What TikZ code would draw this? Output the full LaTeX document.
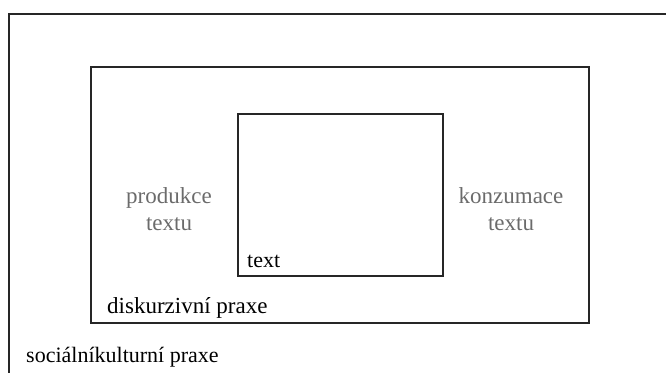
\documentclass[tikz,border=0pt]{standalone}
\usepackage{fontspec}
\setmainfont{Liberation Serif}
\definecolor{labelgray}{gray}{0.42}
\tikzset{
  frame/.style={draw=black!85, line width=1.3pt},
  lbl/.style={inner sep=0pt, font=\fontsize{23}{27}\selectfont},
  sidelbl/.style={lbl, text=labelgray, align=center},
}
\begin{document}
\begin{tikzpicture}[x=1pt,y=1pt]
  \useasboundingbox (0,0) rectangle (666,372);
  \clip (0,0) rectangle (666,372);
  % outer frame: sociocultural practice (runs past the page edge)
  \draw[frame] (9,372-14) rectangle (700,-30);
  % discourse practice
  \draw[frame] (91,372-67) rectangle (589,372-323);
  % text
  \draw[frame] (238,372-114) rectangle (443,372-276);
  \node[sidelbl, anchor=base] (prod) at (169,372-231) {produkce\\textu};
  \node[sidelbl, anchor=base] (konz) at (511,372-231) {konzumace\\textu};
  \node[lbl, font=\fontsize{22}{27}\selectfont, anchor=base west] (txt) at (247,372-268) {text};
  \node[lbl, anchor=base west] (disk) at (107,372-313) {diskurzivní praxe};
  \node[lbl, font=\fontsize{22}{27}\selectfont, anchor=base west] (soc) at (26,372-362) {sociálníkulturní praxe};
\end{tikzpicture}
\end{document}
